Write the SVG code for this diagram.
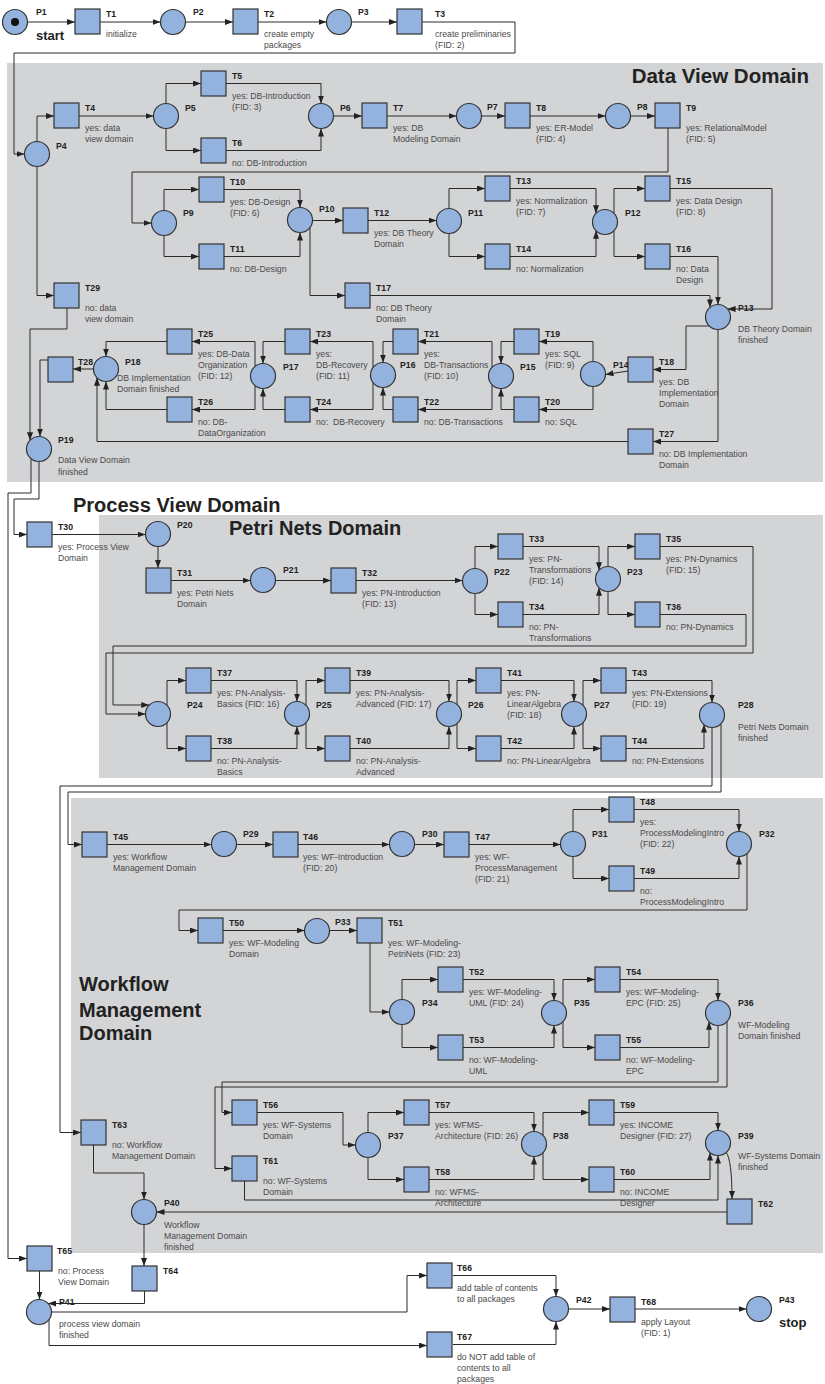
<svg xmlns="http://www.w3.org/2000/svg" width="825" height="1384" viewBox="0 0 825 1384">
<defs>
<marker id="ah" viewBox="0 0 8 6" refX="8" refY="3" markerWidth="8" markerHeight="6" markerUnits="userSpaceOnUse" orient="auto"><path d="M0,0 L8,3 L0,6 z" fill="#222"/></marker>
<style>
.pan{fill:#d3d4d6}
.pl,.tr{fill:#93b2dd;stroke:#333;stroke-width:1.2}
.lb{font:bold 8.7px "Liberation Sans",Arial,sans-serif;fill:#222}
.ds{font:8.7px "Liberation Sans",Arial,sans-serif;fill:#4a4a4a}
.ttl{font:bold 20px "Liberation Sans",Arial,sans-serif;fill:#222}
.big{font:bold 13px "Liberation Sans",Arial,sans-serif;fill:#222}
.arc{fill:none;stroke:#2a2a2a;stroke-width:1;marker-end:url(#ah)}
</style>
</defs>
<rect width="825" height="1384" fill="#fff"/>
<!-- domain panels -->
<g id="panels">
<rect class="pan" x="7" y="63" width="816" height="419"/>
<rect class="pan" x="99" y="515" width="724" height="263"/>
<rect class="pan" x="71" y="798" width="752" height="455"/>
<text class="ttl" x="809" y="83" text-anchor="end" style="font-size:20.5px">Data View Domain</text>
<text class="ttl" x="73" y="512">Process View Domain</text>
<text class="ttl" x="229" y="535">Petri Nets Domain</text>
<text class="ttl" x="79" y="991">Workflow<tspan x="79" y="1016.5">Management</tspan><tspan x="79" y="1040">Domain</tspan></text>
</g>
<!-- arcs -->
<g id="arcs">
<path class="arc" d="M27.5 22H75"/>
<path class="arc" d="M100 22H160.5"/>
<path class="arc" d="M185.5 22H233"/>
<path class="arc" d="M258 22H326.5"/>
<path class="arc" d="M351.5 22H397"/>
<path class="arc" d="M422 22H515V53H14V154H24.5"/>
<path class="arc" d="M37 141.5V116H54"/>
<path class="arc" d="M79 116H153.5"/>
<path class="arc" d="M166 103.5V83.5H201"/>
<path class="arc" d="M226 83.5H321V103.5"/>
<path class="arc" d="M166 128.5V150.5H201"/>
<path class="arc" d="M226 150.5H321V128.5"/>
<path class="arc" d="M333.5 116H362"/>
<path class="arc" d="M387 116H456.5"/>
<path class="arc" d="M481.5 116H505"/>
<path class="arc" d="M530 116H605.5"/>
<path class="arc" d="M630.5 116H655"/>
<path class="arc" d="M668 128V172H132V223H151.5"/>
<path class="arc" d="M164 210.5V189.5H199"/>
<path class="arc" d="M224 189.5H300V207.5"/>
<path class="arc" d="M164 235.5V256.5H199"/>
<path class="arc" d="M224 256.5H300V232.5"/>
<path class="arc" d="M312.5 220.5H343"/>
<path class="arc" d="M368 220.5H436.5"/>
<path class="arc" d="M449 208.5V188.5H485"/>
<path class="arc" d="M510 188.5H596V213.3"/>
<path class="arc" d="M449 233.5V256.5H485"/>
<path class="arc" d="M510 256.5H596V230.7"/>
<path class="arc" d="M614 213.3V188.5H645"/>
<path class="arc" d="M614 230.7V256.5H645"/>
<path class="arc" d="M670 188.5H772V309H727.6"/>
<path class="arc" d="M670 256.5H718V304.5"/>
<path class="arc" d="M310 227.5V295.5H345"/>
<path class="arc" d="M370 295.5H710V307.4"/>
<path class="arc" d="M709.3 326H686V369.5H653"/>
<path class="arc" d="M628 371L605.5 374.5"/>
<path class="arc" d="M593 361.5V341.5H539"/>
<path class="arc" d="M514 341.5H501V363.5"/>
<path class="arc" d="M593 386.5V409.5H539"/>
<path class="arc" d="M514 409.5H501V388.5"/>
<path class="arc" d="M492 367.3V341.5H418"/>
<path class="arc" d="M492 384.7V409.5H418"/>
<path class="arc" d="M393 341.5H383V362.5"/>
<path class="arc" d="M393 409.5H383V387.5"/>
<path class="arc" d="M373 367.5V341.5H310"/>
<path class="arc" d="M373 382.5V409.5H310"/>
<path class="arc" d="M285 341.5H263V363.5"/>
<path class="arc" d="M285 409.5H263V388.5"/>
<path class="arc" d="M255 366.4V341.5H192"/>
<path class="arc" d="M255 385.6V409.5H192"/>
<path class="arc" d="M167 341.5H106V356.5"/>
<path class="arc" d="M167 409.5H106V381.5"/>
<path class="arc" d="M718 329.5V441.5H653"/>
<path class="arc" d="M628 441.5H97V377.7"/>
<path class="arc" d="M93.5 369H73"/>
<path class="arc" d="M48 360H40V436.5"/>
<path class="arc" d="M37 166.5V295.5H54"/>
<path class="arc" d="M67 308V329H30V440.3"/>
<path class="arc" d="M39 461.5V499H14V534.5H27"/>
<path class="arc" d="M31 458.6V493H8V1258.5H27"/>
<path class="arc" d="M52 534.5H145.5"/>
<path class="arc" d="M158 546.5V568"/>
<path class="arc" d="M171 580.5H250.5"/>
<path class="arc" d="M275.5 580.5H331"/>
<path class="arc" d="M356 580.5H462.5"/>
<path class="arc" d="M475 568.5V546.5H498"/>
<path class="arc" d="M523 546.5H599V570.3"/>
<path class="arc" d="M475 593.5V614.5H498"/>
<path class="arc" d="M523 614.5H599V587.7"/>
<path class="arc" d="M608 566.5V546.5H635"/>
<path class="arc" d="M608 591.5V614.5H635"/>
<path class="arc" d="M660 546.5H753V653H106V714H145.5"/>
<path class="arc" d="M660 614.5H746V646H113V705H149.3"/>
<path class="arc" d="M167 705.3V680.5H186"/>
<path class="arc" d="M211 680.5H297V701.5"/>
<path class="arc" d="M167 722.7V748.5H186"/>
<path class="arc" d="M211 748.5H297V726.5"/>
<path class="arc" d="M306 705.3V680.5H325"/>
<path class="arc" d="M306 722.7V748.5H325"/>
<path class="arc" d="M350 680.5H449V701.5"/>
<path class="arc" d="M350 748.5H449V726.5"/>
<path class="arc" d="M457 704.4V680.5H476"/>
<path class="arc" d="M457 723.6V748.5H476"/>
<path class="arc" d="M501 680.5H574V701.5"/>
<path class="arc" d="M501 748.5H574V726.5"/>
<path class="arc" d="M583 705.3V680.5H601"/>
<path class="arc" d="M583 722.7V748.5H601"/>
<path class="arc" d="M626 680.5H712V702.5"/>
<path class="arc" d="M626 748.5H704V724.6"/>
<path class="arc" d="M712 727.5V786H60V1132.5H81"/>
<path class="arc" d="M721 723.7V792H68V844.5H82"/>
<path class="arc" d="M107 844.5H211.5"/>
<path class="arc" d="M236.5 844.5H273"/>
<path class="arc" d="M298 844.5H389.5"/>
<path class="arc" d="M414.5 844.5H444"/>
<path class="arc" d="M469 844.5H560.5"/>
<path class="arc" d="M573 831.5V809.5H609"/>
<path class="arc" d="M634 809.5H739V831.5"/>
<path class="arc" d="M573 856.5V878.5H609"/>
<path class="arc" d="M634 878.5H739V856.5"/>
<path class="arc" d="M747 853.6V910H179V930.5H198"/>
<path class="arc" d="M223 930.5H304.5"/>
<path class="arc" d="M329.5 930.5H357"/>
<path class="arc" d="M370 943V1012H389.5"/>
<path class="arc" d="M402 999.5V979.5H438"/>
<path class="arc" d="M463 979.5H554V1000.5"/>
<path class="arc" d="M402 1024.5V1047.5H438"/>
<path class="arc" d="M463 1047.5H554V1025.5"/>
<path class="arc" d="M563 1004.3V979.5H595"/>
<path class="arc" d="M563 1021.7V1047.5H595"/>
<path class="arc" d="M620 979.5H718V1000.5"/>
<path class="arc" d="M620 1047.5H709V1021.7"/>
<path class="arc" d="M718 1025.5V1082H222V1112.5H232"/>
<path class="arc" d="M727 1021.7V1087H215V1168.5H232"/>
<path class="arc" d="M257 1112.5H343V1145H355.5"/>
<path class="arc" d="M368 1132.5V1112.5H404"/>
<path class="arc" d="M429 1112.5H534V1131.5"/>
<path class="arc" d="M368 1157.5V1179.5H404"/>
<path class="arc" d="M429 1179.5H534V1156.5"/>
<path class="arc" d="M543 1135.3V1112.5H589"/>
<path class="arc" d="M543 1152.7V1179.5H589"/>
<path class="arc" d="M614 1112.5H718V1130.5"/>
<path class="arc" d="M614 1179.5H710V1152.6"/>
<path class="arc" d="M244.5 1181V1200H718V1155.5"/>
<path class="arc" d="M726 1152Q732 1160 732 1199"/>
<path class="arc" d="M727 1212H156.5"/>
<path class="arc" d="M93.5 1145V1173H144V1199.5"/>
<path class="arc" d="M144 1224.5V1266"/>
<path class="arc" d="M144.5 1291V1303.5H48"/>
<path class="arc" d="M39.5 1271V1299.5"/>
<path class="arc" d="M51.5 1312H407V1275.5H427"/>
<path class="arc" d="M49 1319.5V1345.5H427"/>
<path class="arc" d="M453 1275.5H556V1296.5"/>
<path class="arc" d="M453 1344.5H556V1321.5"/>
<path class="arc" d="M568.5 1309H610"/>
<path class="arc" d="M635 1309H746.5"/>
</g>
<!-- places -->
<g id="places">
<g id="P1"><circle class="pl" cx="15" cy="22" r="12.5"/><circle cx="15" cy="22" r="4" fill="#111"/><text class="lb" x="36" y="15">P1</text><text class="big" x="36" y="40">start</text></g>
<g id="P2"><circle class="pl" cx="173" cy="22" r="12.5"/><text class="lb" x="193" y="15">P2</text></g>
<g id="P3"><circle class="pl" cx="339" cy="22" r="12.5"/><text class="lb" x="358" y="15">P3</text></g>
<g id="P4"><circle class="pl" cx="37" cy="154" r="12.5"/><text class="lb" x="56" y="149">P4</text></g>
<g id="P5"><circle class="pl" cx="166" cy="116" r="12.5"/><text class="lb" x="185" y="111">P5</text></g>
<g id="P6"><circle class="pl" cx="321" cy="116" r="12.5"/><text class="lb" x="340" y="111">P6</text></g>
<g id="P7"><circle class="pl" cx="469" cy="116" r="12.5"/><text class="lb" x="487" y="110">P7</text></g>
<g id="P8"><circle class="pl" cx="618" cy="116" r="12.5"/><text class="lb" x="637" y="110">P8</text></g>
<g id="P9"><circle class="pl" cx="164" cy="223" r="12.5"/><text class="lb" x="183" y="216">P9</text></g>
<g id="P10"><circle class="pl" cx="300" cy="220" r="12.5"/><text class="lb" x="319" y="212">P10</text></g>
<g id="P11"><circle class="pl" cx="449" cy="221" r="12.5"/><text class="lb" x="468" y="216">P11</text></g>
<g id="P12"><circle class="pl" cx="605" cy="222" r="12.5"/><text class="lb" x="625" y="216">P12</text></g>
<g id="P13"><circle class="pl" cx="718" cy="317" r="12.5"/><text class="lb" x="738" y="311">P13</text><text class="ds" x="738" y="332">DB Theory Domain<tspan x="738" dy="10.8">finished</tspan></text></g>
<g id="P14"><circle class="pl" cx="593" cy="374" r="12.5"/><text class="lb" x="613" y="368">P14</text></g>
<g id="P15"><circle class="pl" cx="501" cy="376" r="12.5"/><text class="lb" x="520" y="370">P15</text></g>
<g id="P16"><circle class="pl" cx="383" cy="375" r="12.5"/><text class="lb" x="400" y="368">P16</text></g>
<g id="P17"><circle class="pl" cx="263" cy="376" r="12.5"/><text class="lb" x="283" y="370">P17</text></g>
<g id="P18"><circle class="pl" cx="106" cy="369" r="12.5"/><text class="lb" x="125" y="365">P18</text><text class="ds" x="117" y="381">DB Implementation<tspan x="117" dy="10.8">Domain finished</tspan></text></g>
<g id="P19"><circle class="pl" cx="39" cy="449" r="12.5"/><text class="lb" x="58" y="443">P19</text><text class="ds" x="58" y="463">Data View Domain<tspan x="58" dy="11.5">finished</tspan></text></g>
<g id="P20"><circle class="pl" cx="158" cy="534" r="12.5"/><text class="lb" x="177" y="528">P20</text></g>
<g id="P21"><circle class="pl" cx="263" cy="580" r="12.5"/><text class="lb" x="283" y="573">P21</text></g>
<g id="P22"><circle class="pl" cx="475" cy="581" r="12.5"/><text class="lb" x="494" y="575">P22</text></g>
<g id="P23"><circle class="pl" cx="608" cy="579" r="12.5"/><text class="lb" x="627" y="575">P23</text></g>
<g id="P24"><circle class="pl" cx="158" cy="714" r="12.5"/><text class="lb" x="187" y="708">P24</text></g>
<g id="P25"><circle class="pl" cx="297" cy="714" r="12.5"/><text class="lb" x="316" y="708">P25</text></g>
<g id="P26"><circle class="pl" cx="449" cy="714" r="12.5"/><text class="lb" x="468" y="708">P26</text></g>
<g id="P27"><circle class="pl" cx="574" cy="714" r="12.5"/><text class="lb" x="594" y="708">P27</text></g>
<g id="P28"><circle class="pl" cx="712" cy="715" r="12.5"/><text class="lb" x="738" y="708">P28</text><text class="ds" x="738" y="730">Petri Nets Domain<tspan x="738" dy="10.8">finished</tspan></text></g>
<g id="P29"><circle class="pl" cx="224" cy="844" r="12.5"/><text class="lb" x="243" y="837">P29</text></g>
<g id="P30"><circle class="pl" cx="402" cy="844" r="12.5"/><text class="lb" x="422" y="837">P30</text></g>
<g id="P31"><circle class="pl" cx="573" cy="844" r="12.5"/><text class="lb" x="592" y="837">P31</text></g>
<g id="P32"><circle class="pl" cx="739" cy="844" r="12.5"/><text class="lb" x="759" y="837">P32</text></g>
<g id="P33"><circle class="pl" cx="317" cy="931" r="12.5"/><text class="lb" x="335" y="925">P33</text></g>
<g id="P34"><circle class="pl" cx="402" cy="1012" r="12.5"/><text class="lb" x="422" y="1006">P34</text></g>
<g id="P35"><circle class="pl" cx="554" cy="1013" r="12.5"/><text class="lb" x="574" y="1006">P35</text></g>
<g id="P36"><circle class="pl" cx="718" cy="1013" r="12.5"/><text class="lb" x="738" y="1006">P36</text><text class="ds" x="738" y="1028">WF-Modeling<tspan x="738" dy="10.8">Domain finished</tspan></text></g>
<g id="P37"><circle class="pl" cx="368" cy="1145" r="12.5"/><text class="lb" x="388" y="1139">P37</text></g>
<g id="P38"><circle class="pl" cx="534" cy="1144" r="12.5"/><text class="lb" x="553" y="1139">P38</text></g>
<g id="P39"><circle class="pl" cx="718" cy="1143" r="12.5"/><text class="lb" x="738" y="1139">P39</text><text class="ds" x="738" y="1159">WF-Systems Domain<tspan x="738" dy="10.8">finished</tspan></text></g>
<g id="P40"><circle class="pl" cx="144" cy="1212" r="12.5"/><text class="lb" x="164" y="1206">P40</text><text class="ds" x="164" y="1228">Workflow<tspan x="164" dy="10.8">Management Domain</tspan><tspan x="164" dy="10.8">finished</tspan></text></g>
<g id="P41"><circle class="pl" cx="39" cy="1312" r="12.5"/><text class="lb" x="59" y="1305">P41</text><text class="ds" x="59" y="1327">process view domain<tspan x="59" dy="10.8">finished</tspan></text></g>
<g id="P42"><circle class="pl" cx="556" cy="1309" r="12.5"/><text class="lb" x="576" y="1303">P42</text></g>
<g id="P43"><circle class="pl" cx="759" cy="1309" r="12.5"/><text class="lb" x="779" y="1303">P43</text><text class="big" x="779" y="1327">stop</text></g>
</g>
<!-- transitions -->
<g id="transitions">
<g id="T1"><rect class="tr" x="75" y="9" width="25" height="25"/><text class="lb" x="106" y="16.5">T1</text><text class="ds" x="106" y="37">initialize</text></g>
<g id="T2"><rect class="tr" x="233" y="9" width="25" height="25"/><text class="lb" x="264" y="16.5">T2</text><text class="ds" x="264" y="37">create empty<tspan x="264" dy="10.8">packages</tspan></text></g>
<g id="T3"><rect class="tr" x="397" y="9" width="25" height="25"/><text class="lb" x="435" y="16.5">T3</text><text class="ds" x="435" y="37">create preliminaries<tspan x="435" dy="10.8">(FID: 2)</tspan></text></g>
<g id="T4"><rect class="tr" x="54" y="103" width="25" height="25"/><text class="lb" x="85" y="110.5">T4</text><text class="ds" x="85" y="131">yes: data<tspan x="85" dy="10.8">view domain</tspan></text></g>
<g id="T5"><rect class="tr" x="201" y="71" width="25" height="25"/><text class="lb" x="232" y="78.5">T5</text><text class="ds" x="232" y="99">yes: DB-Introduction<tspan x="232" dy="10.8">(FID: 3)</tspan></text></g>
<g id="T6"><rect class="tr" x="201" y="138" width="25" height="25"/><text class="lb" x="232" y="145.5">T6</text><text class="ds" x="232" y="166">no: DB-Introduction</text></g>
<g id="T7"><rect class="tr" x="362" y="103" width="25" height="25"/><text class="lb" x="393" y="110.5">T7</text><text class="ds" x="393" y="131">yes: DB<tspan x="393" dy="10.8">Modeling Domain</tspan></text></g>
<g id="T8"><rect class="tr" x="505" y="103" width="25" height="25"/><text class="lb" x="536" y="110.5">T8</text><text class="ds" x="536" y="131">yes: ER-Model<tspan x="536" dy="10.8">(FID: 4)</tspan></text></g>
<g id="T9"><rect class="tr" x="655" y="103" width="25" height="25"/><text class="lb" x="686" y="110.5">T9</text><text class="ds" x="686" y="131">yes: RelationalModel<tspan x="686" dy="10.8">(FID: 5)</tspan></text></g>
<g id="T10"><rect class="tr" x="199" y="177" width="25" height="25"/><text class="lb" x="230" y="184.5">T10</text><text class="ds" x="230" y="205">yes: DB-Design<tspan x="230" dy="10.8">(FID: 6)</tspan></text></g>
<g id="T11"><rect class="tr" x="199" y="244" width="25" height="25"/><text class="lb" x="230" y="251.5">T11</text><text class="ds" x="230" y="272">no: DB-Design</text></g>
<g id="T12"><rect class="tr" x="343" y="208" width="25" height="25"/><text class="lb" x="374" y="215.5">T12</text><text class="ds" x="374" y="236">yes: DB Theory<tspan x="374" dy="10.8">Domain</tspan></text></g>
<g id="T13"><rect class="tr" x="485" y="176" width="25" height="25"/><text class="lb" x="516" y="183.5">T13</text><text class="ds" x="516" y="204">yes: Normalization<tspan x="516" dy="10.8">(FID: 7)</tspan></text></g>
<g id="T14"><rect class="tr" x="485" y="244" width="25" height="25"/><text class="lb" x="516" y="251.5">T14</text><text class="ds" x="516" y="272">no: Normalization</text></g>
<g id="T15"><rect class="tr" x="645" y="176" width="25" height="25"/><text class="lb" x="676" y="183.5">T15</text><text class="ds" x="676" y="204">yes: Data Design<tspan x="676" dy="10.8">(FID: 8)</tspan></text></g>
<g id="T16"><rect class="tr" x="645" y="244" width="25" height="25"/><text class="lb" x="676" y="251.5">T16</text><text class="ds" x="676" y="272">no: Data<tspan x="676" dy="10.8">Design</tspan></text></g>
<g id="T17"><rect class="tr" x="345" y="283" width="25" height="25"/><text class="lb" x="376" y="290.5">T17</text><text class="ds" x="376" y="311">no: DB Theory<tspan x="376" dy="10.8">Domain</tspan></text></g>
<g id="T18"><rect class="tr" x="628" y="357" width="25" height="25"/><text class="lb" x="659" y="364.5">T18</text><text class="ds" x="659" y="385">yes: DB<tspan x="659" dy="10.8">Implementation</tspan><tspan x="659" dy="10.8">Domain</tspan></text></g>
<g id="T19"><rect class="tr" x="514" y="329" width="25" height="25"/><text class="lb" x="545" y="336.5">T19</text><text class="ds" x="545" y="357">yes: SQL<tspan x="545" dy="10.8">(FID: 9)</tspan></text></g>
<g id="T20"><rect class="tr" x="514" y="397" width="25" height="25"/><text class="lb" x="545" y="404.5">T20</text><text class="ds" x="545" y="425">no: SQL</text></g>
<g id="T21"><rect class="tr" x="393" y="329" width="25" height="25"/><text class="lb" x="424" y="336.5">T21</text><text class="ds" x="424" y="357">yes:<tspan x="424" dy="10.8">DB-Transactions</tspan><tspan x="424" dy="10.8">(FID: 10)</tspan></text></g>
<g id="T22"><rect class="tr" x="393" y="397" width="25" height="25"/><text class="lb" x="424" y="404.5">T22</text><text class="ds" x="424" y="425">no: DB-Transactions</text></g>
<g id="T23"><rect class="tr" x="285" y="329" width="25" height="25"/><text class="lb" x="316" y="336.5">T23</text><text class="ds" x="316" y="357">yes:<tspan x="316" dy="10.8">DB-Recovery</tspan><tspan x="316" dy="10.8">(FID: 11)</tspan></text></g>
<g id="T24"><rect class="tr" x="285" y="397" width="25" height="25"/><text class="lb" x="316" y="404.5">T24</text><text class="ds" x="316" y="425" xml:space="preserve">no:  DB-Recovery</text></g>
<g id="T25"><rect class="tr" x="167" y="329" width="25" height="25"/><text class="lb" x="198" y="336.5">T25</text><text class="ds" x="198" y="357">yes: DB-Data<tspan x="198" dy="10.8">Organization</tspan><tspan x="198" dy="10.8">(FID: 12)</tspan></text></g>
<g id="T26"><rect class="tr" x="167" y="397" width="25" height="25"/><text class="lb" x="198" y="404.5">T26</text><text class="ds" x="198" y="425">no: DB-<tspan x="198" dy="10.8">DataOrganization</tspan></text></g>
<g id="T27"><rect class="tr" x="628" y="429" width="25" height="25"/><text class="lb" x="659" y="436.5">T27</text><text class="ds" x="659" y="457">no: DB Implementation<tspan x="659" dy="10.8">Domain</tspan></text></g>
<g id="T28"><rect class="tr" x="48" y="357" width="25" height="25"/><text class="lb" x="78" y="364.5">T28</text></g>
<g id="T29"><rect class="tr" x="54" y="283" width="25" height="25"/><text class="lb" x="85" y="290.5">T29</text><text class="ds" x="85" y="311">no: data<tspan x="85" dy="10.8">view domain</tspan></text></g>
<g id="T30"><rect class="tr" x="27" y="522" width="25" height="25"/><text class="lb" x="58" y="529.5">T30</text><text class="ds" x="58" y="550">yes: Process View<tspan x="58" dy="10.8">Domain</tspan></text></g>
<g id="T31"><rect class="tr" x="146" y="568" width="25" height="25"/><text class="lb" x="177" y="575.5">T31</text><text class="ds" x="177" y="596">yes: Petri Nets<tspan x="177" dy="10.8">Domain</tspan></text></g>
<g id="T32"><rect class="tr" x="331" y="568" width="25" height="25"/><text class="lb" x="362" y="575.5">T32</text><text class="ds" x="362" y="596">yes: PN-Introduction<tspan x="362" dy="10.8">(FID: 13)</tspan></text></g>
<g id="T33"><rect class="tr" x="498" y="534" width="25" height="25"/><text class="lb" x="529" y="541.5">T33</text><text class="ds" x="529" y="562">yes: PN-<tspan x="529" dy="10.8">Transformations</tspan><tspan x="529" dy="10.8">(FID: 14)</tspan></text></g>
<g id="T34"><rect class="tr" x="498" y="602" width="25" height="25"/><text class="lb" x="529" y="609.5">T34</text><text class="ds" x="529" y="630">no: PN-<tspan x="529" dy="10.8">Transformations</tspan></text></g>
<g id="T35"><rect class="tr" x="635" y="534" width="25" height="25"/><text class="lb" x="666" y="541.5">T35</text><text class="ds" x="666" y="562">yes: PN-Dynamics<tspan x="666" dy="10.8">(FID: 15)</tspan></text></g>
<g id="T36"><rect class="tr" x="635" y="602" width="25" height="25"/><text class="lb" x="666" y="609.5">T36</text><text class="ds" x="666" y="630">no: PN-Dynamics</text></g>
<g id="T37"><rect class="tr" x="186" y="668" width="25" height="25"/><text class="lb" x="217" y="675.5">T37</text><text class="ds" x="217" y="696">yes: PN-Analysis-<tspan x="217" dy="10.8">Basics (FID: 16)</tspan></text></g>
<g id="T38"><rect class="tr" x="186" y="736" width="25" height="25"/><text class="lb" x="217" y="743.5">T38</text><text class="ds" x="217" y="764">no: PN-Analysis-<tspan x="217" dy="10.8">Basics</tspan></text></g>
<g id="T39"><rect class="tr" x="325" y="668" width="25" height="25"/><text class="lb" x="356" y="675.5">T39</text><text class="ds" x="356" y="696">yes: PN-Analysis-<tspan x="356" dy="10.8">Advanced (FID: 17)</tspan></text></g>
<g id="T40"><rect class="tr" x="325" y="736" width="25" height="25"/><text class="lb" x="356" y="743.5">T40</text><text class="ds" x="356" y="764">no: PN-Analysis-<tspan x="356" dy="10.8">Advanced</tspan></text></g>
<g id="T41"><rect class="tr" x="476" y="668" width="25" height="25"/><text class="lb" x="507" y="675.5">T41</text><text class="ds" x="507" y="696">yes: PN-<tspan x="507" dy="10.8">LinearAlgebra</tspan><tspan x="507" dy="10.8">(FID: 18)</tspan></text></g>
<g id="T42"><rect class="tr" x="476" y="736" width="25" height="25"/><text class="lb" x="507" y="743.5">T42</text><text class="ds" x="507" y="764">no: PN-LinearAlgebra</text></g>
<g id="T43"><rect class="tr" x="601" y="668" width="25" height="25"/><text class="lb" x="632" y="675.5">T43</text><text class="ds" x="632" y="696">yes: PN-Extensions<tspan x="632" dy="10.8">(FID: 19)</tspan></text></g>
<g id="T44"><rect class="tr" x="601" y="736" width="25" height="25"/><text class="lb" x="632" y="743.5">T44</text><text class="ds" x="632" y="764">no: PN-Extensions</text></g>
<g id="T45"><rect class="tr" x="82" y="832" width="25" height="25"/><text class="lb" x="113" y="839.5">T45</text><text class="ds" x="113" y="860">yes: Workflow<tspan x="113" dy="10.8">Management Domain</tspan></text></g>
<g id="T46"><rect class="tr" x="273" y="832" width="25" height="25"/><text class="lb" x="303" y="839.5">T46</text><text class="ds" x="303" y="860">yes: WF-Introduction<tspan x="303" dy="10.8">(FID: 20)</tspan></text></g>
<g id="T47"><rect class="tr" x="444" y="832" width="25" height="25"/><text class="lb" x="475" y="839.5">T47</text><text class="ds" x="475" y="860">yes: WF-<tspan x="475" dy="10.8">ProcessManagement</tspan><tspan x="475" dy="10.8">(FID: 21)</tspan></text></g>
<g id="T48"><rect class="tr" x="609" y="797" width="25" height="25"/><text class="lb" x="640" y="804.5">T48</text><text class="ds" x="640" y="825">yes:<tspan x="640" dy="10.8">ProcessModelingIntro</tspan><tspan x="640" dy="10.8">(FID: 22)</tspan></text></g>
<g id="T49"><rect class="tr" x="609" y="866" width="25" height="25"/><text class="lb" x="640" y="873.5">T49</text><text class="ds" x="640" y="894">no:<tspan x="640" dy="10.8">ProcessModelingIntro</tspan></text></g>
<g id="T50"><rect class="tr" x="198" y="918" width="25" height="25"/><text class="lb" x="229" y="925.5">T50</text><text class="ds" x="229" y="946">yes: WF-Modeling<tspan x="229" dy="10.8">Domain</tspan></text></g>
<g id="T51"><rect class="tr" x="357" y="918" width="25" height="25"/><text class="lb" x="388" y="925.5">T51</text><text class="ds" x="388" y="946">yes: WF-Modeling-<tspan x="388" dy="10.8">PetriNets (FID: 23)</tspan></text></g>
<g id="T52"><rect class="tr" x="438" y="967" width="25" height="25"/><text class="lb" x="469" y="974.5">T52</text><text class="ds" x="469" y="995">yes: WF-Modeling-<tspan x="469" dy="10.8">UML (FID: 24)</tspan></text></g>
<g id="T53"><rect class="tr" x="438" y="1035" width="25" height="25"/><text class="lb" x="469" y="1042.5">T53</text><text class="ds" x="469" y="1063">no: WF-Modeling-<tspan x="469" dy="10.8">UML</tspan></text></g>
<g id="T54"><rect class="tr" x="595" y="967" width="25" height="25"/><text class="lb" x="626" y="974.5">T54</text><text class="ds" x="626" y="995">yes: WF-Modeling-<tspan x="626" dy="10.8">EPC (FID: 25)</tspan></text></g>
<g id="T55"><rect class="tr" x="595" y="1035" width="25" height="25"/><text class="lb" x="626" y="1042.5">T55</text><text class="ds" x="626" y="1063">no: WF-Modeling-<tspan x="626" dy="10.8">EPC</tspan></text></g>
<g id="T56"><rect class="tr" x="232" y="1100" width="25" height="25"/><text class="lb" x="263" y="1107.5">T56</text><text class="ds" x="263" y="1128">yes: WF-Systems<tspan x="263" dy="10.8">Domain</tspan></text></g>
<g id="T57"><rect class="tr" x="404" y="1100" width="25" height="25"/><text class="lb" x="435" y="1107.5">T57</text><text class="ds" x="435" y="1128">yes: WFMS-<tspan x="435" dy="10.8">Architecture (FID: 26)</tspan></text></g>
<g id="T58"><rect class="tr" x="404" y="1167" width="25" height="25"/><text class="lb" x="435" y="1174.5">T58</text><text class="ds" x="435" y="1195">no: WFMS-<tspan x="435" dy="10.8">Architecture</tspan></text></g>
<g id="T59"><rect class="tr" x="589" y="1100" width="25" height="25"/><text class="lb" x="620" y="1107.5">T59</text><text class="ds" x="620" y="1128">yes: INCOME<tspan x="620" dy="10.8">Designer (FID: 27)</tspan></text></g>
<g id="T60"><rect class="tr" x="589" y="1167" width="25" height="25"/><text class="lb" x="620" y="1174.5">T60</text><text class="ds" x="620" y="1195">no: INCOME<tspan x="620" dy="10.8">Designer</tspan></text></g>
<g id="T61"><rect class="tr" x="232" y="1156" width="25" height="25"/><text class="lb" x="263" y="1163.5">T61</text><text class="ds" x="263" y="1184">no: WF-Systems<tspan x="263" dy="10.8">Domain</tspan></text></g>
<g id="T62"><rect class="tr" x="727" y="1199" width="25" height="25"/><text class="lb" x="758" y="1206.5">T62</text></g>
<g id="T63"><rect class="tr" x="81" y="1120" width="25" height="25"/><text class="lb" x="112" y="1127.5">T63</text><text class="ds" x="112" y="1148">no: Workflow<tspan x="112" dy="10.8">Management Domain</tspan></text></g>
<g id="T64"><rect class="tr" x="132" y="1266" width="25" height="25"/><text class="lb" x="163" y="1273.5">T64</text></g>
<g id="T65"><rect class="tr" x="27" y="1246" width="25" height="25"/><text class="lb" x="57" y="1253.5">T65</text><text class="ds" x="58" y="1274">no: Process<tspan x="58" dy="10.8">View Domain</tspan></text></g>
<g id="T66"><rect class="tr" x="427" y="1263" width="25" height="25"/><text class="lb" x="457" y="1270.5">T66</text><text class="ds" x="457" y="1291">add table of contents<tspan x="457" dy="10.8">to all packages</tspan></text></g>
<g id="T67"><rect class="tr" x="427" y="1332" width="25" height="25"/><text class="lb" x="457" y="1339.5">T67</text><text class="ds" x="457" y="1360">do NOT add table of<tspan x="457" dy="10.8">contents to all</tspan><tspan x="457" dy="10.8">packages</tspan></text></g>
<g id="T68"><rect class="tr" x="610" y="1297" width="25" height="25"/><text class="lb" x="641" y="1304.5">T68</text><text class="ds" x="641" y="1325">apply Layout<tspan x="641" dy="10.8">(FID: 1)</tspan></text></g>
</g>
</svg>
